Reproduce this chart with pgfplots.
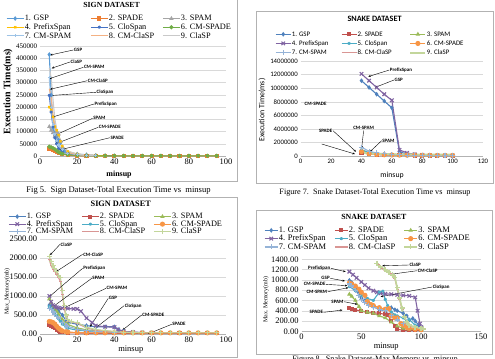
\documentclass[border=0pt]{standalone}
\usepackage{pgfplots}
\pgfplotsset{compat=1.18}
\usetikzlibrary{arrows.meta}
\usepackage{fontspec}
\setmainfont{Liberation Serif}
\newfontfamily\calfont{Carlito}
\newcommand\fs[1]{\fontsize{#1}{#1}\selectfont}
% Office 2013 palette (Sign exec time)
\definecolor{aGSP}{HTML}{5B9BD5}
\definecolor{aSPADE}{HTML}{ED7D31}
\definecolor{aSPAM}{HTML}{A5A5A5}
\definecolor{aPref}{HTML}{FFC000}
\definecolor{aClo}{HTML}{4472C4}
\definecolor{aCMSPADE}{HTML}{70AD47}
\definecolor{aCMSPAM}{HTML}{9DC3E6}
\definecolor{aCMClaSP}{HTML}{F4B183}
\definecolor{aClaSP}{HTML}{C9C9C9}
% Office 2007 palette
\definecolor{bGSP}{HTML}{4F81BD}
\definecolor{bSPADE}{HTML}{C0504D}
\definecolor{bSPAM}{HTML}{9BBB59}
\definecolor{bPref}{HTML}{8064A2}
\definecolor{bClo}{HTML}{4BACC6}
\definecolor{bCMSPADE}{HTML}{F79646}
\definecolor{bCMSPAM}{HTML}{95B3D7}
\definecolor{bCMClaSP}{HTML}{D99694}
\definecolor{bClaSP}{HTML}{C3D69B}
\pgfplotsset{
  base/.style={
    scale only axis, clip=false,
    axis x line=bottom, axis y line=left,
    axis line style={-},
    y axis line style={draw=none},
    x axis line style={draw=gray!60, line width=0.5bp},
    ymajorgrids, grid style={gray!30, line width=0.4bp},
    major tick length=3.5bp,
    major tick style={draw=none},
    tick label style={inner sep=1bp},
    /pgf/number format/assume math mode=true,
    /pgf/number format/1000 sep={},
    scaled ticks=false,
    legend columns=3,
    legend cell align=left,
    legend style={draw=none, fill=none, inner sep=0pt, anchor=north west, /tikz/column sep=0pt, cells={anchor=west}},
    every axis plot/.append style={line width=1.1bp, mark size=1.5bp},
    title style={anchor=center, inner sep=0pt, yshift=-6pt},
    xlabel style={anchor=center, inner sep=0pt},
    ylabel style={anchor=center, inner sep=0pt},
  },
  shortleg/.style={legend image code/.code={\draw[mark repeat=2,mark phase=2] plot coordinates {(0bp,0bp)(#1bp,0bp)(2*#1bp,0bp)};}},
}
\tikzset{
  ann/.style={inner sep=0.5bp, font=\calfont\bfseries\fs{5}},
  arr/.style={-{Stealth[length=2.5bp,width=2bp]}, line width=0.4bp, black},
}
\newcommand\ann[5]{\node[ann,anchor=west] (#1) at (axis cs:#2) {#3}; \draw[arr] (#1.#4) -- (axis cs:#5);}
\begin{document}
\begin{tikzpicture}[x=1bp,y=1bp]
\useasboundingbox (0,0) rectangle (495,358);
\coordinate (P1) at (40,202);
\coordinate (P2) at (300.7,202);
\coordinate (P3) at (40,24);
\coordinate (P4) at (301.5,26.7);
% frames
\draw[gray!60, line width=0.6bp] (-2,360) rectangle (237,176.5);
\draw[gray!60, line width=0.6bp] (-2,161) rectangle (237,1);
\draw[gray!60, line width=0.6bp] (256,347) rectangle (493,174.5);
\draw[gray!60, line width=0.6bp] (256,148) rectangle (492,4);
% captions
\node[font=\fs{8.6}] at (118.5,168) {Fig 5.\ \ Sign Dataset-Total Execution Time vs\ \ minsup};
\node[font=\fs{8.2}] at (375,165) {Figure 7.\ \ Snake Dataset-Total Execution Time vs\ \ minsup};
\node[font=\fs{8.2}] at (375,-1.5) {Figure 8.\ \ Snake Dataset-Max Memory vs\ \ minsup};

%================ Chart 1: Sign exec time
\begin{axis}[base, at={(P1)}, anchor=south west, width=186bp, height=110bp,
  xmin=0, xmax=100, ymin=0, ymax=450000,
  xtick={0,20,...,100}, ytick={0,50000,...,450000},
  xticklabel style={font=\fs{8.5}}, yticklabel style={font=\fs{7}, /pgf/number format/fixed},
  title={SIGN DATASET}, title style={at={(axis description cs:0.385,1.37)}, font=\bfseries\fs{7.8}},
  xlabel={minsup}, xlabel style={at={(axis description cs:0.425,-0.173)}, font=\bfseries\fs{8}},
  ylabel={Execution Time(ms)}, ylabel style={at={(axis description cs:-0.172,0.585)}, font=\bfseries\fs{10}},
  legend style={at={(-0.183,1.291)}, font=\fs{8.3}, nodes={inner sep=0.5bp, text height=6bp, text depth=1.7bp}},
]
\addplot[aGSP, mark=diamond*, mark options={solid,fill=aGSP}] coordinates {(5,415000)(6,250000)(7,115000)(8,95000)(9,80000)(10,65000)(11,55000)(12,30000)(13,20000)(15,12000)(20,8000)(25,5000)(30,2000)(35,1000)(40,800)};
\addlegendentry{\makebox[65bp][l]{1. GSP}}
\addplot[aSPADE, mark=square*, mark options={solid,fill=aSPADE}] coordinates {(5,30000)(6,28000)(7,26000)(8,20000)(9,15000)(10,12000)(12,7000)(15,3000)(20,1500)(25,800)(30,500)(35,400)(40,300)(45,300)(50,300)(55,300)(60,300)(65,300)(70,300)(75,300)(80,300)(85,300)(90,300)(95,300)};
\addlegendentry{\makebox[53bp][l]{2. SPADE}}
\addplot[aSPAM, mark=triangle*, mark options={solid,fill=aSPAM}] coordinates {(5,120000)(6,105000)(7,95000)(8,80000)(9,100000)(10,90000)(11,60000)(12,35000)(15,15000)(20,5000)(25,3000)(30,1500)(35,800)};
\addlegendentry{3. SPAM}
\addplot[aPref, mark=x, mark options={solid}] coordinates {(5,200000)(6,190000)(7,160000)(8,120000)(9,105000)(10,85000)(11,60000)(12,40000)(15,18000)(20,8000)(25,3000)(30,1500)(35,800)};
\addlegendentry{\makebox[65bp][l]{4. PrefixSpan}}
\addplot[aClo, mark=asterisk, mark options={solid}] coordinates {(5,248000)(6,180000)(7,120000)(8,75000)(9,50000)(10,30000)(12,18000)(15,9000)(20,4000)(25,2000)(30,1000)};
\addlegendentry{\makebox[53bp][l]{5. CloSpan}}
\addplot[aCMSPADE, mark=*, mark options={solid,fill=aCMSPADE}] coordinates {(5,38000)(6,36000)(7,32000)(8,28000)(9,22000)(10,16000)(11,12000)(12,9000)(15,5000)(20,2500)(25,1500)(30,800)(35,800)(40,800)(45,800)(50,800)(55,800)(60,800)(65,800)(70,800)(75,800)(80,800)(85,800)(90,800)(95,800)};
\addlegendentry{6. CM-SPADE}
\addplot[aCMSPAM, mark=+, mark options={solid}] coordinates {(5,320000)(6,200000)(7,130000)(8,90000)(9,65000)(10,45000)(12,25000)(15,12000)(20,5000)(25,2500)(30,1200)};
\addlegendentry{\makebox[65bp][l]{7. CM-SPAM}}
\addplot[aCMClaSP, no marks] coordinates {(5,275000)(6,240000)(7,170000)(8,120000)(9,90000)(10,65000)(12,35000)(15,15000)(20,6000)(25,3000)(30,1500)};
\addlegendentry{\makebox[53bp][l]{8. CM-ClaSP}}
\addplot[aClaSP, no marks] coordinates {(5,360000)(6,320000)(7,230000)(8,150000)(9,110000)(10,80000)(12,40000)(15,20000)(20,8000)(25,4000)(30,2000)};
\addlegendentry{9. ClaSP}
\ann{a1}{17.9,433600}{GSP}{west}{5.4,413000}
\ann{a2}{16.1,384600}{ClaSP}{west}{6.3,359000}
\ann{a3}{23.3,362800}{CM-SPAM}{west}{5,316000}
\ann{a4}{25.4,308000}{CM-ClaSP}{west}{5.4,273000}
\ann{a5}{30.1,260600}{CloSpan}{west}{5,247000}
\ann{a6}{29,212700}{PrefixSpan}{west}{6.3,158000}
\ann{a7}{28.3,154200}{SPAM}{west}{7.2,82000}
\ann{a8}{31.3,117400}{CM-SPADE}{west}{8.1,49000}
\ann{a9}{37.6,74900}{SPADE}{west}{9,22000}
\end{axis}

%================ Chart 2: Snake exec time
\begin{axis}[base, at={(P2)}, anchor=south west, width=182.3bp, height=95bp,
  xmin=0, xmax=120, ymin=0, ymax=14000000,
  xtick={0,20,...,120}, ytick={0,2000000,...,14000000},
  tick label style={font=\calfont\fs{6.8}}, yticklabel style={/pgf/number format/fixed},
  title={SNAKE DATASET}, title style={at={(axis description cs:0.405,1.442)}, font=\calfont\bfseries\fs{8.2}},
  xlabel={minsup}, xlabel style={at={(axis description cs:0.501,-0.2)}, font=\calfont\fs{7.8}},
  ylabel={Execution Time(ms)}, ylabel style={at={(axis description cs:-0.212,0.484)}, font=\calfont\fs{7.9}},
  shortleg=7.5,
  legend style={at={(-0.141,1.332)}, font=\calfont\fs{6.9}, nodes={inner sep=0.5bp, text height=6.3bp, text depth=1.9bp}},
]
\addplot[bGSP, mark=diamond*, mark options={solid,fill=bGSP}] coordinates {(40,11100000)(45,10100000)(50,9100000)(55,8100000)(60,7100000)(65,600000)(70,300000)(75,180000)(80,120000)(85,90000)(90,70000)(95,60000)(100,50000)};
\addlegendentry{\makebox[48.7bp][l]{1. GSP}}
\addplot[bSPADE, mark=square*, mark options={solid,fill=bSPADE}] coordinates {(40,500000)(45,320000)(50,220000)(55,160000)(60,130000)(65,100000)(70,90000)(75,80000)(80,70000)(85,60000)(90,55000)(95,50000)(100,45000)};
\addlegendentry{\makebox[51.3bp][l]{2. SPADE}}
\addplot[bSPAM, mark=triangle*, mark options={solid,fill=bSPAM}] coordinates {(40,850000)(45,500000)(50,320000)(55,220000)(60,170000)(65,130000)(70,110000)(75,95000)(80,85000)(85,75000)(90,65000)(95,60000)(100,55000)};
\addlegendentry{3. SPAM}
\addplot[bPref, mark=x, mark size=2.5bp, mark options={solid}] coordinates {(40,12100000)(45,11100000)(50,10100000)(55,9100000)(60,8200000)(65,900000)(70,450000)(75,250000)(80,150000)(85,110000)(90,90000)(95,70000)(100,60000)};
\addlegendentry{\makebox[48.7bp][l]{4. PrefixSpan}}
\addplot[bClo, mark=asterisk, mark options={solid}] coordinates {(40,900000)(45,550000)(50,400000)(55,300000)(60,250000)(65,180000)(70,140000)(75,110000)(80,90000)(85,80000)(90,70000)(95,60000)(100,50000)};
\addlegendentry{\makebox[51.3bp][l]{5. CloSpan}}
\addplot[bCMSPADE, mark=*, mark size=2bp, mark options={solid,fill=bCMSPADE}] coordinates {(40,650000)(45,350000)(50,230000)(55,180000)(60,150000)(65,130000)(70,120000)(75,110000)(80,100000)(85,100000)(90,90000)(95,90000)(100,90000)};
\addlegendentry{6. CM-SPADE}
\addplot[bCMSPAM, mark=+, mark size=2.5bp, mark options={solid}] coordinates {(40,1300000)(45,700000)(50,450000)(55,320000)(60,250000)(65,180000)(70,140000)(75,110000)(80,90000)(85,80000)(90,70000)(95,60000)(100,50000)};
\addlegendentry{\makebox[48.7bp][l]{7. CM-SPAM}}
\addplot[bCMClaSP, no marks] coordinates {(40,450000)(45,320000)(50,260000)(55,230000)(60,210000)(65,200000)(70,190000)(75,180000)(80,170000)(85,170000)(90,160000)(95,160000)(100,150000)};
\addlegendentry{\makebox[51.3bp][l]{8. CM-ClaSP}}
\addplot[bClaSP, no marks, line width=2bp] coordinates {(40,500000)(45,380000)(50,300000)(55,270000)(60,250000)(65,240000)(70,230000)(75,220000)(80,210000)(85,210000)(90,200000)(95,200000)(100,200000)};
\addlegendentry{9. ClaSP}
\ann{b1}{58.3,12670000}{PrefixSpan}{west}{44.5,11700000}
\ann{b2}{61.4,11200000}{GSP}{west}{48.9,10100000}
\node[ann,anchor=west] at (axis cs:2.2,7660000) {CM-SPADE};
\ann{b4}{11.6,3730000}{SPADE}{east}{36.4,630000}
\ann{b5}{34.2,4080000}{CM-SPAM}{south}{40.1,1130000}
\ann{b6}{53.3,2260000}{SPAM}{west}{45.6,630000}
\draw[arr] (axis cs:13.8,1770000) -- (axis cs:35.7,290000);
\end{axis}

%================ Chart 3: Sign memory
\begin{axis}[base, at={(P3)}, anchor=south west, width=186bp, height=95bp,
  xmin=0, xmax=100, ymin=0, ymax=2500,
  xtick={0,20,...,100}, ytick={0,500,...,2500},
  tick label style={font=\fs{8.5}},
  yticklabel style={/pgf/number format/fixed, /pgf/number format/fixed zerofill, /pgf/number format/precision=2},
  title={SIGN DATASET}, title style={at={(axis description cs:0.434,1.368)}, font=\bfseries\fs{8.3}},
  xlabel={minsup}, xlabel style={at={(axis description cs:0.488,-0.168)}, font=\fs{8.5}},
  ylabel={Max\_Memory(mb)}, ylabel style={at={(axis description cs:-0.177,0.45)}, font=\fs{6}},
  legend style={at={(-0.172,1.277)}, font=\fs{8.3}, nodes={inner sep=0.5bp, text height=5.2bp, text depth=1.3bp}},
]
\addplot[bGSP, mark=diamond*, mark options={solid,fill=bGSP}] coordinates {(5,760)(6,730)(7,700)(8,660)(9,640)(10,600)(12,500)(14,350)(15,300)(20,260)(25,220)(30,190)(35,190)(40,190)(42,120)(45,70)(50,45)(55,40)};
\addlegendentry{\makebox[54bp][l]{1. GSP}}
\addplot[bSPADE, mark=square*, mark options={solid,fill=bSPADE}] coordinates {(5,250)(6,210)(7,180)(8,150)(9,110)(10,80)(11,60)(12,50)(15,35)(20,30)(25,20)(30,20)(35,20)(40,20)(45,20)(50,20)(55,20)(60,20)(65,20)(70,20)(75,20)(80,20)(85,20)(90,20)(95,20)};
\addlegendentry{\makebox[53bp][l]{2. SPADE}}
\addplot[bSPAM, mark=triangle*, mark options={solid,fill=bSPAM}] coordinates {(5,920)(6,820)(7,720)(8,650)(9,600)(10,520)(12,380)(14,280)(15,250)(20,160)(25,110)(30,80)(35,60)(40,50)(50,40)};
\addlegendentry{3. SPAM}
\addplot[bPref, mark=x, mark size=2.5bp, mark options={solid}] coordinates {(5,1000)(6,850)(7,760)(8,720)(9,700)(10,690)(12,680)(15,670)(18,660)(20,660)(22,600)(25,420)(28,300)(30,220)(35,190)(40,180)(42,120)(45,70)(50,50)(55,40)(60,35)};
\addlegendentry{\makebox[54bp][l]{4. PrefixSpan}}
\addplot[bClo, mark=asterisk, mark options={solid}] coordinates {(5,720)(6,680)(7,620)(8,560)(9,480)(10,400)(11,330)(12,260)(14,180)(15,150)(20,100)(25,80)(30,60)(40,45)(50,35)};
\addlegendentry{\makebox[53bp][l]{5. CloSpan}}
\addplot[bCMSPADE, mark=*, mark size=2bp, mark options={solid,fill=bCMSPADE}] coordinates {(5,330)(6,320)(7,300)(8,260)(9,200)(10,150)(11,110)(12,80)(14,60)(15,50)(20,40)(25,30)(30,30)(35,30)(40,30)(45,30)(50,30)(55,30)(60,30)(65,30)(70,30)(75,30)(80,30)(85,30)(90,30)(95,30)};
\addlegendentry{6. CM-SPADE}
\addplot[bCMSPAM, mark=+, mark size=2.5bp, mark options={solid}] coordinates {(5,680)(6,640)(7,580)(8,520)(9,470)(10,420)(12,300)(14,220)(15,200)(20,130)(25,90)(30,70)(40,50)(50,40)};
\addlegendentry{\makebox[54bp][l]{7. CM-SPAM}}
\addplot[bCMClaSP, mark=-, mark options={solid}] coordinates {(5,1950)(6,1800)(7,1700)(8,1640)(9,1580)(10,1480)(11,1380)(12,1050)(13,680)(14,450)(15,340)(20,280)(25,160)(30,100)(35,80)(40,60)(50,35)};
\addlegendentry{\makebox[53bp][l]{8. CM-ClaSP}}
\addplot[bClaSP, mark=+, mark size=2.5bp, mark options={solid}] coordinates {(5,2050)(6,1900)(7,1800)(8,1720)(9,1650)(10,1550)(11,1480)(12,1150)(13,750)(14,500)(15,380)(17,320)(20,300)(25,180)(30,120)(35,90)(40,70)(45,50)(50,40)(55,30)(60,30)(65,30)(70,30)(75,30)(80,30)(85,30)(90,30)(95,30)};
\addlegendentry{9. ClaSP}
\ann{c1}{10.75,2359}{ClaSP}{west}{5.4,2078}
\ann{c2}{22.9,2096}{CM-ClaSP}{west}{8.6,1638}
\ann{c3}{22.9,1728}{PrefixSpan}{west}{5,981}
\ann{c4}{27.8,1465}{SPAM}{west}{5.8,676}
\ann{c5}{35.5,1202}{CM-SPAM}{west}{10.4,631}
\ann{c6}{36.7,939}{GSP}{west}{26.9,192}
\ann{c7}{45.2,744}{CloSpan}{west}{29.6,150}
\ann{c8}{54.7,500}{CM-SPADE}{west}{44.4,105}
\ann{c9}{70.8,255}{SPADE}{west}{58.2,5}
\end{axis}

%================ Chart 4: Snake memory
\begin{axis}[base, at={(P4)}, anchor=south west, width=179.5bp, height=72bp,
  xmin=0, xmax=150, ymin=0, ymax=1400,
  xtick={0,50,100,150}, ytick={0,200,...,1400},
  tick label style={font=\fs{8.5}},
  yticklabel style={/pgf/number format/fixed, /pgf/number format/fixed zerofill, /pgf/number format/precision=2},
  title={SNAKE DATASET}, title style={at={(axis description cs:0.403,1.592)}, font=\bfseries\fs{7.9}},
  xlabel={minsup}, xlabel style={at={(axis description cs:0.472,-0.218)}, font=\fs{8.5}},
  ylabel={Max.\ Memory(mb)}, ylabel style={at={(axis description cs:-0.198,0.44)}, font=\fs{6}},
  shortleg=6.5,
  legend style={at={(-0.209,1.4625)}, font=\fs{8.5}, nodes={inner sep=0.5bp, text height=5.8bp, text depth=1.5bp}},
]
\addplot[bGSP, mark=diamond*, mark options={solid,fill=bGSP}] coordinates {(40,990)(42,950)(45,870)(48,750)(50,650)(53,600)(56,560)(60,480)(65,420)(70,400)(75,460)(78,420)(80,400)(85,350)(88,300)(90,220)(93,250)(95,200)(98,120)(100,60)};
\addlegendentry{\makebox[55bp][l]{1. GSP}}
\addplot[bSPADE, mark=square*, mark options={solid,fill=bSPADE}] coordinates {(40,450)(42,440)(45,420)(50,390)(55,370)(60,360)(65,350)(70,330)(72,320)(75,200)(78,100)(80,40)(85,20)(90,20)(95,20)(100,20)};
\addlegendentry{\makebox[54bp][l]{2. SPADE}}
\addplot[bSPAM, mark=triangle*, mark options={solid,fill=bSPAM}] coordinates {(40,720)(42,680)(45,600)(48,480)(50,400)(55,370)(60,350)(65,300)(70,260)(75,180)(80,100)(85,60)(90,40)(100,30)};
\addlegendentry{3. SPAM}
\addplot[bPref, mark=x, mark size=2.5bp, mark options={solid}] coordinates {(40,1160)(43,1100)(46,1040)(50,960)(53,900)(56,840)(60,790)(63,760)(66,740)(70,730)(75,720)(80,710)(85,700)(90,690)(95,660)(97,400)(99,150)(100,80)};
\addlegendentry{\makebox[55bp][l]{4. PrefixSpan}}
\addplot[bClo, mark=asterisk, mark options={solid}] coordinates {(40,870)(45,790)(50,700)(55,640)(60,600)(65,760)(68,780)(70,620)(72,500)(75,380)(78,320)(80,300)(85,260)(88,200)(90,230)(95,120)(100,60)};
\addlegendentry{\makebox[54bp][l]{5. CloSpan}}
\addplot[bCMSPADE, mark=*, mark size=2bp, mark options={solid,fill=bCMSPADE}] coordinates {(40,940)(42,920)(45,880)(48,820)(50,760)(53,700)(55,580)(58,520)(60,500)(65,460)(70,430)(73,440)(75,300)(78,260)(80,260)(83,150)(85,120)(88,80)(90,60)(95,40)(100,30)};
\addlegendentry{6. CM-SPADE}
\addplot[bCMSPAM, mark=+, mark size=2.5bp, mark options={solid}] coordinates {(40,920)(42,880)(45,800)(48,700)(50,620)(53,560)(56,500)(60,470)(65,430)(70,400)(75,300)(80,220)(85,160)(90,110)(95,80)(100,50)};
\addlegendentry{\makebox[55bp][l]{7. CM-SPAM}}
\addplot[bCMClaSP, mark=-, mark options={solid}] coordinates {(64,1300)(67,1230)(70,1170)(74,1120)(78,1030)(80,820)(82,620)(84,420)(86,260)(88,160)(90,100)(95,70)(100,50)};
\addlegendentry{\makebox[54bp][l]{8. CM-ClaSP}}
\addplot[bClaSP, mark=+, mark size=2.5bp, line width=1.6bp, mark options={solid}] coordinates {(63,1320)(66,1250)(70,1200)(73,1150)(76,1100)(78,1050)(80,850)(82,650)(84,450)(86,280)(88,180)(90,120)(95,80)(100,60)(102,50)};
\addlegendentry{9. ClaSP}
\ann{d1}{89.7,1289}{ClaSP}{west}{67.5,1275}
\ann{d2}{96.6,1178}{CM-ClaSP}{west}{74.4,1108}
\ann{d3}{109.1,861}{CloSpan}{west}{66.1,673}
\ann{d4}{5,1225}{PrefixSpan}{east}{36.9,1159}
\ann{d5}{16.1,1030}{GSP}{east}{36.3,978}
\ann{d6}{1.3,913}{CM-SPADE}{east}{38.3,887}
\ann{d7}{3.6,770}{CM-SPAM}{east}{39.2,848}
\ann{d8}{24.4,575}{SPAM}{east}{46.7,525}
\ann{d9}{6.3,369}{SPADE}{east}{34.2,414}
\end{axis}
\end{tikzpicture}
\end{document}
